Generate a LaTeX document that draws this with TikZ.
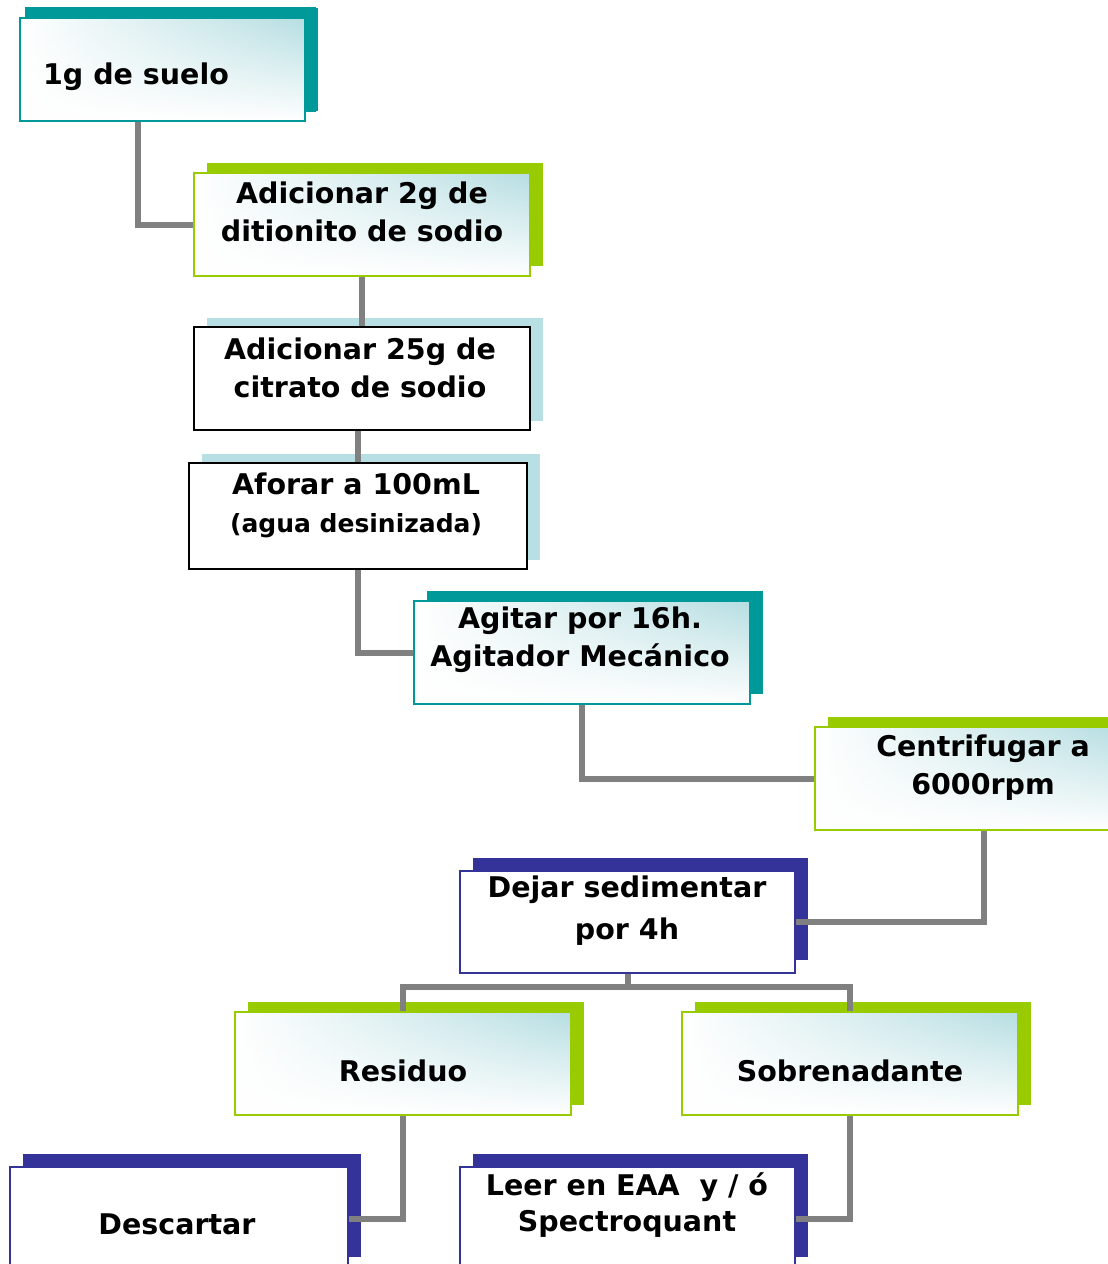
\documentclass[tikz,border=0pt]{standalone}
\usepackage{fontspec}
\setmainfont{DejaVu Sans}
\usetikzlibrary{shadows,fadings}
\definecolor{tealc}{RGB}{0,153,153}
\definecolor{greenc}{RGB}{153,204,0}
\definecolor{lblue}{RGB}{184,223,227}
\definecolor{dblue}{RGB}{51,51,153}
\definecolor{cfill}{RGB}{182,222,226}
\definecolor{connc}{RGB}{128,128,128}
\tikzfading[name=botwhite, top color=transparent!100, middle color=transparent!75, bottom color=transparent!0]
\begin{document}
\begin{tikzpicture}[x=1pt,y=-1pt,
  gradbox/.style={rectangle, line width=1.5pt, left color=white, middle color=cfill!45, right color=cfill,
    path picture={\fill[white, path fading=botwhite] (path picture bounding box.south west) rectangle (path picture bounding box.north east);}},
  tealbox/.style={gradbox, draw=tealc, general shadow={shadow xshift=13pt, shadow yshift=10pt, fill=tealc}},
  greenbox/.style={gradbox, draw=greenc, general shadow={shadow xshift=13pt, shadow yshift=10pt, fill=greenc}},
  plainbox/.style={rectangle, draw=black, line width=1.8pt, fill=white, general shadow={shadow xshift=13pt, shadow yshift=9pt, fill=lblue}},
  bluebox/.style={rectangle, draw=dblue, line width=1.2pt, fill=white, general shadow={shadow xshift=13pt, shadow yshift=13pt, fill=dblue}},
  wh/.style={minimum width=#1, minimum height=103pt, inner sep=0pt},
  txt/.style={align=center, font=\bfseries\fontsize{28.5}{38}\selectfont, inner sep=0pt},
  conn/.style={draw=connc, line width=6pt}
]
\useasboundingbox (0,0) rectangle (1108,1264);
\clip (0,0) rectangle (1108,1264);

% boxes
\node[tealbox, wh=285pt, general shadow={shadow xshift=8pt, shadow yshift=10pt, shadow scale=1.02, fill=tealc}] (n1) at (162.5,69.5) {};
\node[greenbox, wh=336pt] (n2) at (362,224.5) {};
\node[plainbox, wh=336pt] (n3) at (362,378.5) {};
\node[plainbox, wh=338pt, minimum height=106pt] (n4) at (358,516) {};
\node[tealbox, wh=336pt] (n5) at (582,652.5) {};
\node[greenbox, wh=305pt] (n6) at (967.5,778.5) {};
\node[bluebox, wh=335pt, minimum height=102pt] (n7) at (627.5,922) {};
\node[greenbox, wh=336pt] (n8) at (403,1063.5) {};
\node[greenbox, wh=336pt] (n9) at (850,1063.5) {};
\node[bluebox, wh=338pt] (n10) at (179,1218.5) {};
\node[bluebox, wh=335pt] (n11) at (627.5,1218.5) {};

% connectors
\draw[conn] ([xshift=-25pt]n1.south) |- (n2.west);
\draw[conn] (n2.south) -- (n3.north);
\draw[conn] (n4.north |- n3.south) -- (n4.north);
\draw[conn] (n4.south) |- (n5.west);
\draw[conn] (n5.south) |- (n6.west);
\draw[conn] ([xshift=16pt]n6.south) |- (n7.east);
\draw[conn] (n7.south) -- ++(0,13) -| (n8.north);
\draw[conn] (n7.south) -- ++(0,13) -| (n9.north);
\draw[conn] (n8.south) |- (n10.east);
\draw[conn] (n9.south) |- (n11.east);

% texts
\node[txt] (t1) at (136,77) {1g de suelo};
\node[txt] (t2) at (362,212) {Adicionar 2g de\\ditionito de sodio};
\node[txt] (t3) at (360,368) {Adicionar 25g de\\citrato de sodio};
\node[txt] (t4) at (356,505) {Aforar a 100mL\\{\fontsize{25}{38}\selectfont (agua desinizada)}};
\node[txt] (t5) at (580,640) {Agitar por 16h.\\Agitador Mecánico};
\node[txt] (t6) at (983,768) {Centrifugar a\\6000rpm};
\node[txt, font=\bfseries\fontsize{28.5}{42}\selectfont] (t7) at (627,911) {Dejar sedimentar\\por 4h};
\node[txt] (t8) at (403,1071) {Residuo};
\node[txt] (t9) at (850,1071) {Sobrenadante};
\node[txt] (t10) at (177,1224) {Descartar};
\node[txt, font=\bfseries\fontsize{28.5}{36}\selectfont] (t11) at (627,1205) {Leer en EAA~~y / ó\\Spectroquant};
\end{tikzpicture}
\end{document}
